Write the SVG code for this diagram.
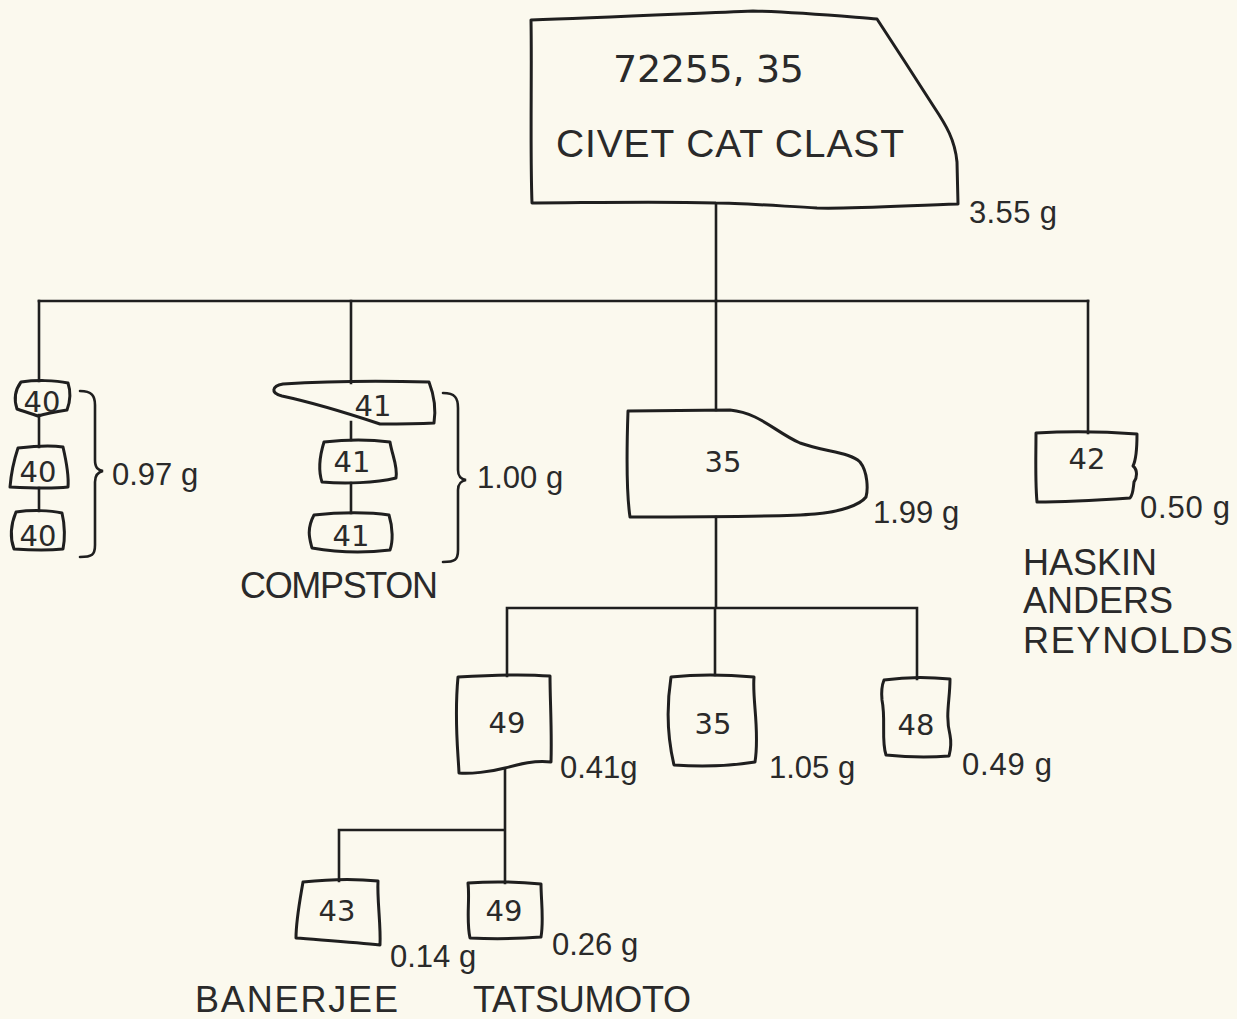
<svg xmlns="http://www.w3.org/2000/svg" width="1237" height="1019" viewBox="0 0 1237 1019">
<style>
.bg{fill:#fbf9ee}
.n{fill:none;stroke:#1f1f1f;stroke-width:3;stroke-linejoin:round;stroke-linecap:round}
.c{fill:none;stroke:#1f1f1f;stroke-width:2.6;stroke-linecap:square}
.br{fill:none;stroke:#1f1f1f;stroke-width:2.6;stroke-linecap:round}
text{font-family:"Liberation Sans",Arial,sans-serif;fill:#2a2a2a}
.lbl{font-family:"DejaVu Sans","Liberation Sans",sans-serif;font-size:29px;text-anchor:middle}
.w{font-size:31px}
.name{font-size:36px}
.big{font-family:"DejaVu Sans","Liberation Sans",sans-serif;font-size:38px}
</style>
<rect class="bg" x="0" y="0" width="1237" height="1019"/>
<g id="connectors">
<path class="c" d="M716,204 V301"/>
<path class="c" d="M39,301 H1088"/>
<path class="c" d="M39,301 V381 M39,415 V447 M39,488 V511"/>
<path class="c" d="M351,301 V383 M351,422 V440 M351,483 V513"/>
<path class="c" d="M716,301 V410"/>
<path class="c" d="M1088,301 V433"/>
<path class="c" d="M716,517 V608 M507,608 H917 M507,608 V676 M715,608 V675 M917,608 V679"/>
<path class="c" d="M505,770 V830 M339,830 H505 M339,830 V881 M505,830 V883"/>
</g>
<g id="node-72255-35">
<path class="n" d="M531,20 C600,18 700,13 753,11 C800,12 850,17 877,19 L905,62 L934,107 C946,125 955,140 957,162 L958,204 C900,206 850,209 817,208 C780,206 740,203 716,203 C650,201 580,203 532,203 C530,150 532,70 531,20 Z"/>
<text class="big" x="613" y="82" textLength="191" lengthAdjust="spacing">72255, 35</text>
<text x="556" y="157" font-size="39" textLength="348" lengthAdjust="spacing">CIVET CAT CLAST</text>
<text class="w" x="969" y="223" textLength="88" lengthAdjust="spacing">3.55 g</text>
</g>
<g id="node-40a">
<path class="n" d="M21,382 C35,380 55,380 68,383 C71,392 70,402 67,410 C55,412 45,414 38,416 C30,413 22,411 17,409 C14,400 15,390 21,382 Z"/>
<text class="lbl" x="42" y="412">40</text>
</g>
<g id="node-40b">
<path class="n" d="M18,448 C35,446 50,445 63,447 C66,460 69,475 68,487 C50,489 30,488 10,487 C11,475 14,460 18,448 Z"/>
<text class="lbl" x="38" y="482">40</text>
</g>
<g id="node-40c">
<path class="n" d="M16,512 C30,510 50,510 62,513 C65,525 65,540 63,549 C45,551 28,550 14,549 C10,538 11,524 16,512 Z"/>
<text class="lbl" x="38" y="546">40</text>
</g>
<g id="group-40">
<path class="br" d="M80,391 C92,391 95,396 95,405 V460 C95,468 98,470 103,471 C98,472 95,475 95,482 V545 C95,555 92,557 80,557"/>
<text class="w" x="112" y="485">0.97 g</text>
</g>
<g id="node-41a">
<path class="n" d="M283,384 C330,381 390,381 429,382 C434,395 436,410 434,423 C415,424 395,424 380,424 C350,414 310,402 282,396 C270,393 272,386 283,384 Z"/>
<text class="lbl" x="373" y="416">41</text>
</g>
<g id="node-41b">
<path class="n" d="M324,442 C350,439 375,440 390,442 C392,455 398,466 396,478 C375,483 345,484 322,482 C318,470 320,455 324,442 Z"/>
<text class="lbl" x="352" y="472">41</text>
</g>
<g id="node-41c">
<path class="n" d="M314,515 C340,512 370,512 389,515 C393,528 393,542 390,550 C365,553 335,552 312,548 C310,540 306,530 314,515 Z"/>
<text class="lbl" x="351" y="546">41</text>
</g>
<g id="group-41">
<path class="br" d="M443,393 C455,393 458,398 458,408 V470 C458,477 461,479 466,480 C461,481 458,483 458,490 V550 C458,560 455,562 443,562"/>
<text class="w" x="477" y="488">1.00 g</text>
<text class="name" x="240" y="598" textLength="198" lengthAdjust="spacing">COMPSTON</text>
</g>
<g id="node-35">
<path class="n" d="M628,411 L730,410 C760,413 775,432 800,443 C825,452 850,452 860,462 C868,472 868,490 866,497 C860,505 840,512 815,514 C780,517 700,517 630,517 C626,490 627,440 628,411 Z"/>
<text class="lbl" x="723" y="472">35</text>
<text class="w" x="873" y="523">1.99 g</text>
</g>
<g id="node-42">
<path class="n" d="M1036,433 C1070,431 1110,432 1137,434 C1137,450 1136,460 1133,466 C1138,470 1137,478 1134,482 C1133,490 1133,495 1130,498 C1100,500 1070,502 1037,502 C1035,480 1036,455 1036,433 Z"/>
<text class="lbl" x="1087" y="469">42</text>
<text class="w" x="1140" y="518" textLength="90" lengthAdjust="spacing">0.50 g</text>
<text class="name" x="1023" y="575">HASKIN</text>
<text class="name" x="1023" y="613">ANDERS</text>
<text class="name" x="1023" y="653" textLength="210" lengthAdjust="spacing">REYNOLDS</text>
</g>
<g id="node-49">
<path class="n" d="M458,677 C490,675 525,674 550,676 C550,700 552,730 551,762 C535,760 520,764 505,768 C490,772 470,774 459,773 C458,750 454,720 458,677 Z"/>
<text class="lbl" x="507" y="733">49</text>
<text class="w" x="560" y="778">0.41g</text>
</g>
<g id="node-35b">
<path class="n" d="M671,677 C700,674 730,675 754,677 C752,700 760,730 755,762 C730,766 700,767 674,765 C668,740 666,710 671,677 Z"/>
<text class="lbl" x="713" y="734">35</text>
<text class="w" x="769" y="778">1.05 g</text>
</g>
<g id="node-48">
<path class="n" d="M884,680 C905,677 930,677 950,679 C950,700 945,715 950,735 C952,745 950,752 949,756 C925,758 905,757 886,755 C881,740 886,720 882,700 C881,690 882,685 884,680 Z"/>
<text class="lbl" x="916" y="735">48</text>
<text class="w" x="962" y="775" textLength="90" lengthAdjust="spacing">0.49 g</text>
</g>
<g id="node-43">
<path class="n" d="M303,882 C330,879 360,879 378,881 C377,900 381,925 380,945 C355,942 320,940 296,938 C296,920 300,900 303,882 Z"/>
<text class="lbl" x="337" y="921">43</text>
<text class="w" x="390" y="967">0.14 g</text>
<text class="name" x="195" y="1012" textLength="203" lengthAdjust="spacing">BANERJEE</text>
</g>
<g id="node-49b">
<path class="n" d="M468,883 C495,881 520,882 541,884 C541,900 544,920 541,937 C515,939 490,939 470,938 C466,920 470,900 468,883 Z"/>
<text class="lbl" x="504" y="921">49</text>
<text class="w" x="552" y="955">0.26 g</text>
<text class="name" x="473" y="1012" textLength="218" lengthAdjust="spacing">TATSUMOTO</text>
</g>
</svg>
